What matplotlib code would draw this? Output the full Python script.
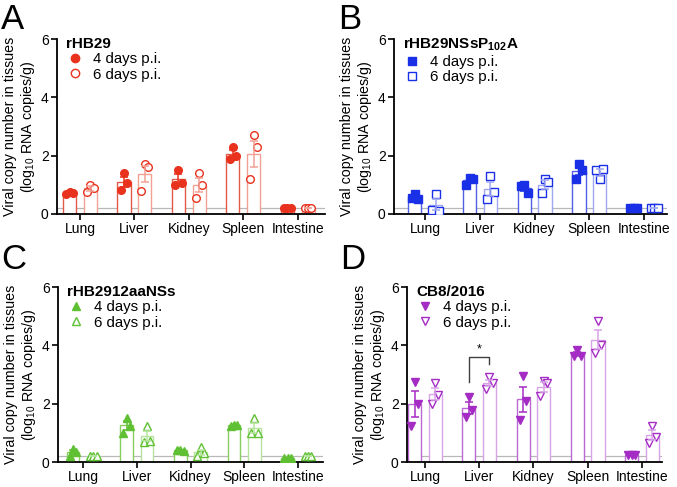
import matplotlib
matplotlib.use("Agg")
import matplotlib.pyplot as plt
from matplotlib.lines import Line2D
import numpy as np

plt.rcParams["font.family"] = ["Liberation Sans", "DejaVu Sans"]
plt.rcParams["mathtext.fontset"] = "custom"
plt.rcParams["mathtext.rm"] = "Liberation Sans"
plt.rcParams["mathtext.bf"] = "Liberation Sans:bold"

TISSUES = ["Lung", "Liver", "Kidney", "Spleen", "Intestine"]
DAY_LABELS = ["4 days p.i.", "6 days p.i."]
LOD = 0.2  # detection limit line

# log10 RNA copies/g, three animals per tissue
HB29_D4 = [[0.70, 0.75, 0.72], [0.82, 1.40, 1.05], [1.00, 1.52, 1.05], [1.90, 2.30, 2.00], [0.20, 0.20, 0.20]]
HB29_D6 = [[0.75, 1.00, 0.88], [0.80, 1.70, 1.60], [0.55, 1.40, 1.00], [1.20, 2.70, 2.30], [0.20, 0.20, 0.20]]

P102A_D4 = [[0.55, 0.70, 0.50], [1.00, 1.25, 1.20], [0.95, 1.00, 0.72], [1.20, 1.70, 1.50], [0.20, 0.20, 0.20]]
P102A_D6 = [[0.15, 0.70, 0.10], [0.50, 1.30, 0.75], [0.72, 1.20, 1.10], [1.50, 1.20, 1.55], [0.20, 0.20, 0.20]]

AA12_D4 = [[0.20, 0.45, 0.36], [1.00, 1.52, 1.25], [0.42, 0.40, 0.38], [1.25, 1.28, 1.26], [0.15, 0.15, 0.15]]
AA12_D6 = [[0.20, 0.20, 0.20], [0.70, 1.25, 0.72], [0.20, 0.50, 0.30], [1.00, 1.52, 1.00], [0.20, 0.20, 0.20]]

CB8_D4 = [[1.22, 2.75, 1.98], [1.53, 2.23, 1.80], [1.44, 2.94, 2.08], [3.65, 3.83, 3.65], [0.25, 0.25, 0.25]]
CB8_D6 = [[2.00, 2.71, 2.31], [2.50, 2.90, 2.72], [2.25, 2.79, 2.70], [3.75, 4.84, 4.00], [0.65, 1.25, 0.85]]

PANELS = [
    dict(letter="A", title="rHB29", d4=HB29_D4, d6=HB29_D6, marker="o",
         colors=("#E8321E", "#E25A48", "#F2A094"),
         pos=[0.0842, 0.5606, 0.3959, 0.3593], xlim=(-0.42, 4.5), lpos=(0.002, 0.994)),
    dict(letter="B", title=r"rHB29NSsP$_{\mathbf{102}}$A", d4=P102A_D4, d6=P102A_D6, marker="s",
         colors=("#1A30E6", "#4F60E2", "#A0A8F0"),
         pos=[0.582, 0.5606, 0.4033, 0.3593], xlim=(-0.57, 4.42), lpos=(0.500, 0.994)),
    dict(letter="C", title="rHB2912aaNSs", d4=AA12_D4, d6=AA12_D6, marker="^",
         colors=("#5EC032", "#86CE5E", "#B4E49C"),
         pos=[0.0857, 0.0513, 0.3914, 0.3593], xlim=(-0.47, 4.47), lpos=(0.002, 0.502)),
    dict(letter="D", title="CB8/2016", d4=CB8_D4, d6=CB8_D6, marker="v",
         colors=("#A42CC4", "#BC68D4", "#D8A4E8"),
         pos=[0.6012, 0.0513, 0.3767, 0.3593], xlim=(-0.33, 4.37), lpos=(0.502, 0.502)),
]

OFFSET = 0.19
WIDTH = 0.24
JITTER = [-0.06, 0.0, 0.06]
MS = 5.5

fig = plt.figure(figsize=(6.77, 4.87), dpi=100)

for p in PANELS:
    ax = fig.add_axes(p["pos"])
    mc, c4, c6 = p["colors"]
    x = np.arange(len(TISSUES))
    for day, (vals, bc, filled) in enumerate([(p["d4"], c4, True), (p["d6"], c6, False)]):
        arr = np.array(vals)
        means = arr.mean(axis=1)
        sems = arr.std(axis=1, ddof=1) / np.sqrt(arr.shape[1])
        xs = x + (-OFFSET if day == 0 else OFFSET)
        ax.bar(xs, means, width=WIDTH, facecolor="white", edgecolor=bc, linewidth=1.0, zorder=2)
        for i in range(len(TISSUES)):
            ax.plot(xs[i] + np.array(JITTER), arr[i], linestyle="none", marker=p["marker"],
                    ms=MS, mfc=mc if filled else "white", mec=mc, mew=1.0, zorder=4)
        ax.errorbar(xs, means, yerr=sems, fmt="none", ecolor=mc if filled else bc,
                    elinewidth=1.1, capsize=3, capthick=1.1, zorder=5)

    ax.axhline(LOD, color="#B8B8B8", lw=0.9, zorder=1)
    ax.set_xlim(*p["xlim"])
    ax.set_ylim(0, 6)
    ax.set_yticks([0, 2, 4, 6])
    ax.set_xticks(x)
    ax.set_xticklabels(TISSUES, fontsize=10)
    ax.tick_params(axis="both", labelsize=10, width=1.2, length=4, pad=2)
    for s in ["top", "right"]:
        ax.spines[s].set_visible(False)
    for s in ["left", "bottom"]:
        ax.spines[s].set_linewidth(1.3)
    ax.set_ylabel("Viral copy number in tissues\n(log$_{10}$ RNA copies/g)", fontsize=10.3,
                  labelpad=3, linespacing=1.1)

    handles = [
        Line2D([], [], linestyle="none", marker=p["marker"], ms=MS + 0.5, mfc=mc, mec=mc, mew=1.0),
        Line2D([], [], linestyle="none", marker=p["marker"], ms=MS + 0.5, mfc="white", mec=mc, mew=1.0),
    ]
    ax.legend(handles, DAY_LABELS, loc="upper left", bbox_to_anchor=(0.0, 1.065),
              frameon=False, fontsize=10.8, title=p["title"],
              title_fontproperties={"weight": "bold", "size": 11},
              handlelength=1.2, handletextpad=0.6, labelspacing=0.1,
              borderaxespad=0.2, alignment="left")

    fig.text(p["lpos"][0], p["lpos"][1], p["letter"], fontsize=25, va="top", ha="left")

    if p["letter"] == "D":
        # significance bracket between Liver 4 d and 6 d
        xl, xr = 1 - OFFSET, 1 + OFFSET
        ax.plot([xl, xl, xr, xr], [2.75, 3.6, 3.6, 3.35], color="#404040", lw=1.0, zorder=6)
        ax.text(1, 3.65, "*", ha="center", va="bottom", fontsize=9)

fig.savefig("out.png", dpi=100)
